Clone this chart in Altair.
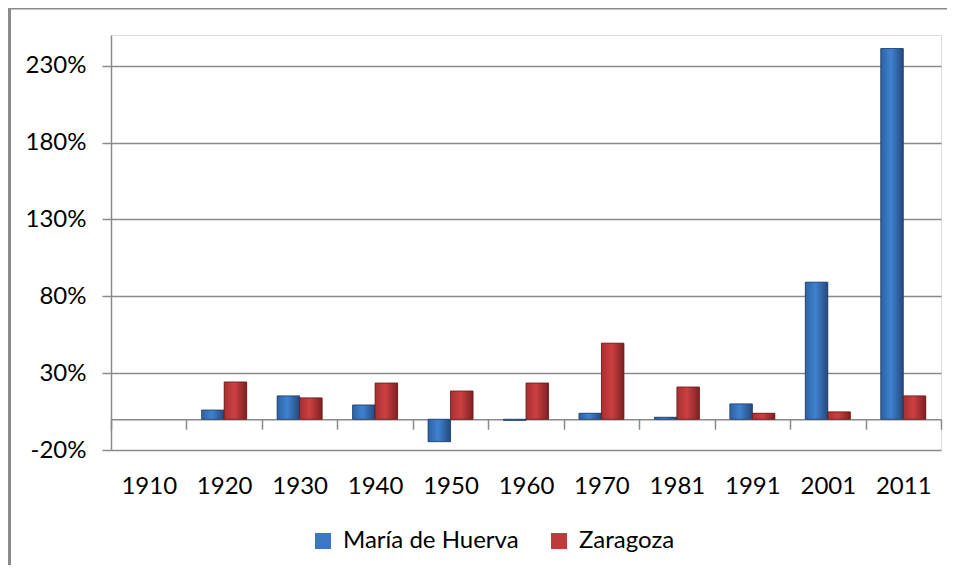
import altair as alt
import pandas as pd

years = ["1910", "1920", "1930", "1940", "1950", "1960", "1970", "1981", "1991", "2001", "2011"]
series = ["María de Huerva", "Zaragoza"]
maria = [None, 6.0, 15.2, 9.3, -14.6, -0.7, 3.9, 1.3, 10.0, 89.2, 241.2]
zaragoza = [None, 24.3, 13.9, 23.6, 18.4, 23.6, 49.5, 21.0, 3.9, 4.8, 15.2]
y_ticks = [-20, 30, 80, 130, 180, 230]
colors = ["#3A78C3", "#C13A3B"]

rows = []
for i, yr in enumerate(years):
    rows.append({"year": yr, "series": series[0], "value": maria[i]})
    rows.append({"year": yr, "series": series[1], "value": zaragoza[i]})
df = pd.DataFrame(rows).dropna()

W, H = 830, 415
PAD_L, PAD_T, PAD_R, PAD_B = 103, 27, 6, 115
FONT = "Lato"
FS = 24
GRAY = "#8A8A8A"

x_enc = alt.X(
    "year:N", sort=years, title=None,
    scale=alt.Scale(domain=years, paddingInner=0, paddingOuter=0),
    axis=alt.Axis(
        offset=-(H * 20 / 270), domainColor=GRAY, domainWidth=1.5, tickColor=GRAY,
        tickWidth=1.5, tickSize=10, tickBand="extent", labelPadding=45, labelAngle=0,
        labelFont=FONT, labelFontSize=FS, labelColor="#000000", grid=False,
    ),
)
xo_enc = alt.XOffset("series:N", sort=series,
                     scale=alt.Scale(domain=series, paddingInner=0, paddingOuter=0.677))
y_enc = alt.Y(
    "value:Q", title=None,
    scale=alt.Scale(domain=[-20, 250], nice=False, zero=False),
    axis=alt.Axis(
        values=y_ticks, labelExpr="datum.value + '%'", grid=True, gridColor=GRAY,
        gridWidth=1.5, domainColor=GRAY, domainWidth=1.5, tickColor=GRAY, tickWidth=1.5,
        tickSize=9, labelPadding=16, labelFont=FONT, labelFontSize=FS, labelColor="#000000",
    ),
)

base = alt.Chart(df).mark_bar().encode(
    x=x_enc, xOffset=xo_enc, y=y_enc,
    color=alt.Color(
        "series:N", sort=series, scale=alt.Scale(domain=series, range=colors),
        legend=alt.Legend(
            title=None, orient="none", direction="horizontal", legendX=200, legendY=494,
            symbolType="square", symbolSize=256, symbolStrokeWidth=0, labelFont=FONT,
            labelFontSize=FS, labelColor="#000000", labelOffset=8, columnPadding=28,
            labelLimit=0,
        ),
    ),
)

def grad(c_edge, c_mid, c_edge2):
    return alt.LinearGradient(
        gradient="linear", x1=0, x2=1, y1=0, y2=0,
        stops=[alt.GradientStop(color=c_edge, offset=0),
               alt.GradientStop(color=c_mid, offset=0.45),
               alt.GradientStop(color=c_edge2, offset=1)],
    )

blue_over = alt.Chart(df).transform_filter(alt.datum.series == series[0]).mark_bar(
    color=grad("#2F62A3", "#3F82D0", "#24497C"), stroke="#1F3F6B", strokeWidth=0.8
).encode(x=x_enc, xOffset=xo_enc, y=y_enc)

red_over = alt.Chart(df).transform_filter(alt.datum.series == series[1]).mark_bar(
    color=grad("#A83032", "#CC4042", "#7E2022"), stroke="#6A1A1B", strokeWidth=0.8
).encode(x=x_enc, xOffset=xo_enc, y=y_enc)

one = pd.DataFrame({"a": [0]})
frame_left = alt.Chart(one).mark_rule(color=GRAY, strokeWidth=3).encode(
    x=alt.value(-PAD_L + 1.5), y=alt.value(-PAD_T), y2=alt.value(H + PAD_B)
)
frame_top = alt.Chart(one).mark_rule(color=GRAY, strokeWidth=1.5).encode(
    x=alt.value(-PAD_L), x2=alt.value(W + PAD_R), y=alt.value(-PAD_T + 0.75)
)

chart = alt.layer(base, blue_over, red_over, frame_left, frame_top).properties(
    width=W, height=H,
    autosize=alt.AutoSizeParams(type="none"),
    padding={"left": PAD_L, "top": PAD_T, "right": PAD_R, "bottom": PAD_B},
).configure_view(stroke=None).configure(background="#FFFFFF")

chart.save("out.html", embed_options={"renderer": "svg", "actions": False})
